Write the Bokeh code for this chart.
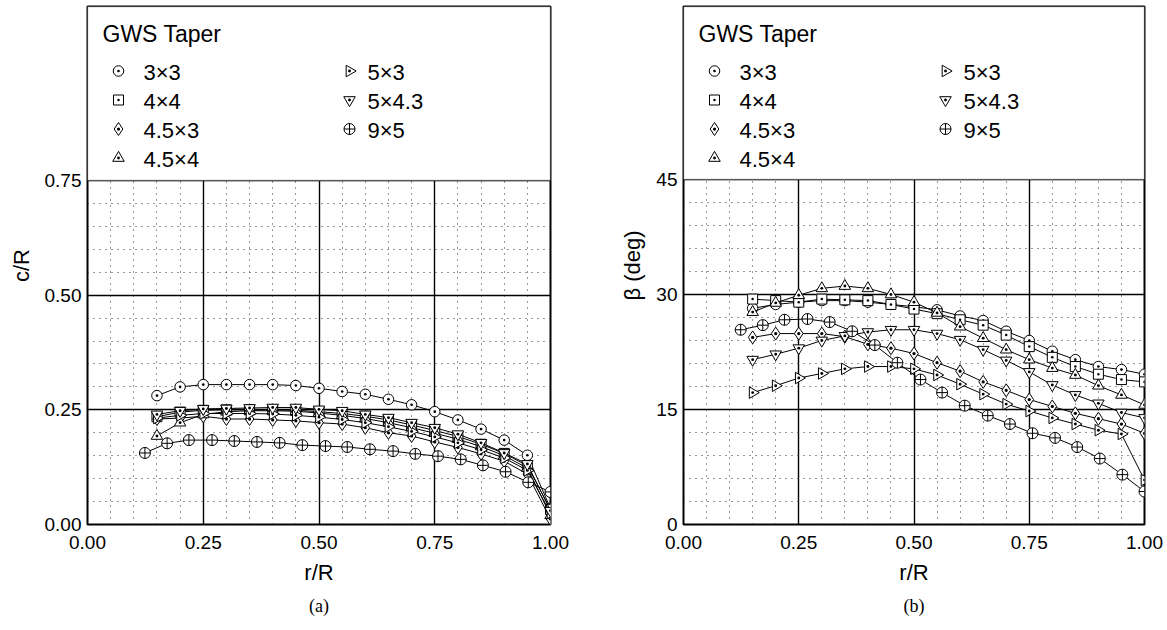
import numpy as np
from bokeh.plotting import figure
from bokeh.layouts import row
from bokeh.models import (FixedTicker, Range1d, BoxAnnotation, Title, NumeralTickFormatter)
from bokeh.core.properties import value
from bokeh.embed import file_html
from bokeh.resources import INLINE

# ---------------- data ----------------
r_std = [0.15, 0.20, 0.25, 0.30, 0.35, 0.40, 0.45, 0.50, 0.55, 0.60,
         0.65, 0.70, 0.75, 0.80, 0.85, 0.90, 0.95, 1.00]
r_9x5 = [0.124, 0.172, 0.219, 0.269, 0.317, 0.366, 0.415, 0.464, 0.514, 0.561,
         0.610, 0.660, 0.708, 0.757, 0.806, 0.854, 0.903, 0.952, 1.000]

legend_title = "GWS Taper"
labels = ["3×3", "4×4", "4.5×3", "4.5×4", "5×3", "5×4.3", "9×5"]

# chord distribution c/R
c_3x3 = [0.281, 0.300, 0.305, 0.305, 0.305, 0.305, 0.303, 0.297, 0.290, 0.284,
         0.273, 0.261, 0.246, 0.228, 0.208, 0.184, 0.151, 0.035]
c_4x4 = [0.235, 0.245, 0.249, 0.250, 0.250, 0.250, 0.249, 0.246, 0.242, 0.236,
         0.228, 0.217, 0.205, 0.192, 0.175, 0.155, 0.128, 0.033]
c_45x3 = [0.230, 0.232, 0.236, 0.230, 0.230, 0.228, 0.226, 0.222, 0.219, 0.211,
          0.200, 0.193, 0.180, 0.168, 0.154, 0.138, 0.110, 0.012]
c_45x4 = [0.193, 0.222, 0.240, 0.246, 0.248, 0.248, 0.247, 0.243, 0.238, 0.231,
          0.222, 0.211, 0.199, 0.186, 0.170, 0.150, 0.123, 0.020]
c_5x3 = [0.232, 0.238, 0.242, 0.242, 0.242, 0.241, 0.238, 0.234, 0.229, 0.222,
         0.213, 0.203, 0.191, 0.178, 0.163, 0.145, 0.118, 0.025]
c_5x43 = [0.240, 0.248, 0.252, 0.253, 0.254, 0.255, 0.255, 0.251, 0.248, 0.240,
          0.233, 0.222, 0.211, 0.197, 0.178, 0.156, 0.132, 0.030]
c_9x5 = [0.156, 0.177, 0.184, 0.184, 0.182, 0.180, 0.178, 0.173, 0.171, 0.169,
         0.164, 0.160, 0.154, 0.149, 0.142, 0.129, 0.115, 0.092, 0.071]

# twist distribution beta (deg)
b_3x3 = [28.2, 28.7, 29.0, 29.2, 29.2, 29.0, 28.7, 28.4, 28.0, 27.2,
         26.6, 25.2, 24.0, 22.6, 21.5, 20.6, 20.2, 19.6]
b_4x4 = [29.4, 29.2, 29.0, 29.4, 29.3, 29.2, 28.7, 28.1, 27.5, 26.7,
         26.0, 24.7, 23.2, 21.8, 20.6, 19.6, 18.9, 18.6]
b_45x3 = [24.4, 24.9, 24.9, 24.9, 24.5, 23.5, 23.0, 22.3, 21.1, 20.0,
          18.6, 17.5, 16.3, 15.4, 14.5, 13.8, 13.1, 11.9]
b_45x4 = [27.7, 28.9, 29.9, 30.8, 31.1, 30.8, 30.0, 29.0, 27.6, 25.8,
          24.3, 22.8, 21.5, 20.4, 19.5, 18.1, 16.9, 15.6]
b_5x3 = [17.2, 18.1, 19.1, 19.7, 20.3, 20.6, 20.6, 20.3, 19.5, 18.3,
         17.0, 15.7, 14.8, 13.9, 13.1, 12.3, 11.8, 5.8]
b_5x43 = [21.5, 22.2, 23.0, 24.0, 24.6, 25.1, 25.4, 25.4, 24.9, 24.1,
          22.8, 21.4, 19.9, 18.2, 16.9, 15.8, 14.6, 13.9]
b_9x5 = [25.4, 26.0, 26.7, 26.8, 26.4, 25.2, 23.4, 21.1, 18.9, 17.2,
         15.5, 14.2, 13.1, 11.9, 11.3, 10.1, 8.6, 6.5, 4.3]

x_ticks = [0.0, 0.25, 0.5, 0.75, 1.0]
x_minor = [0.05, 0.10, 0.15, 0.20, 0.30, 0.35, 0.40, 0.45, 0.55, 0.60, 0.65, 0.70,
           0.80, 0.85, 0.90, 0.95]
c_ticks = [0.0, 0.25, 0.5, 0.75]
c_minor = [0.05, 0.10, 0.15, 0.20, 0.30, 0.35, 0.40, 0.45, 0.55, 0.60, 0.65, 0.70]
b_ticks = [0, 15, 30, 45]
b_minor = [3, 6, 9, 12, 18, 21, 24, 27, 33, 36, 39, 42]

# ---------------- styling / layout ----------------
markers = [("circle_dot", 0.0, 10.5), ("square_dot", 0.0, 10), ("diamond_dot", 0.0, 13),
           ("triangle_dot", 0.0, 11.5), ("triangle_dot", -np.pi / 2, 11.5),
           ("triangle_dot", np.pi, 11.5), ("circle_cross", 0.0, 11)]

FONT = "Liberation Sans"
FIG_H = 628
TOP = 6            # frame top (px)
FRAME_H = 518      # frame height (px)


def make_panel(series, y_ticks, y_minor, y_top, y_end, y_label, caption, fmt,
               width, bl, br, frame_w, ylab_standoff):
    p = figure(width=width, height=FIG_H, output_backend="svg", toolbar_location=None,
               x_range=Range1d(0, 1), y_range=Range1d(0, y_end),
               min_border_left=bl, min_border_right=br, min_border_top=TOP,
               min_border_bottom=FIG_H - TOP - FRAME_H)
    p.outline_line_color = "black"
    p.outline_line_width = 2
    p.background_fill_color = "white"

    xt = FixedTicker(ticks=x_ticks, minor_ticks=x_minor)
    yt = FixedTicker(ticks=y_ticks, minor_ticks=y_minor)
    p.xaxis.ticker = xt
    p.yaxis.ticker = yt
    p.xgrid.ticker = xt
    p.ygrid.ticker = yt
    p.xaxis.formatter = NumeralTickFormatter(format="0.00")
    if fmt:
        p.yaxis.formatter = NumeralTickFormatter(format=fmt)

    for g in (p.xgrid, p.ygrid):
        g.grid_line_color = "black"
        g.grid_line_width = 1.4
        g.minor_grid_line_color = "#333333"
        g.minor_grid_line_width = 1
        g.minor_grid_line_dash = "1 5"

    for ax in (p.xaxis, p.yaxis):
        ax.axis_line_color = None
        ax.major_tick_line_color = None
        ax.minor_tick_line_color = None
        ax.major_tick_out = 0
        ax.major_tick_in = 0
        ax.major_label_text_font = FONT
        ax.major_label_text_font_size = "19px"
        ax.major_label_text_color = "black"
        ax.axis_label_text_font = FONT
        ax.axis_label_text_font_size = "22px"
        ax.axis_label_text_font_style = "normal"
        ax.axis_label_text_color = "black"
    p.xaxis.major_label_standoff = 7
    p.yaxis.major_label_standoff = 2
    p.xaxis.axis_label = "r/R"
    p.yaxis.axis_label = y_label
    p.xaxis.axis_label_standoff = 8
    p.yaxis.axis_label_standoff = ylab_standoff

    # white legend panel above the top tick
    p.add_layout(BoxAnnotation(bottom=y_top, fill_color="white", fill_alpha=1.0,
                               line_color="black", line_width=1.5, level="underlay"))

    for (xs, ys), (mk, ang, sz) in zip(series, markers):
        p.line(xs, ys, line_color="black", line_width=1.0)
        p.scatter(xs, ys, marker=mk, angle=ang, size=sz, fill_color="white",
                  line_color="black", line_width=1.0)

    # ---- legend drawn inside the top panel (pixel offsets from frame top-left) ----
    xs_per_px = 1.0 / frame_w
    ys_per_px = y_end / FRAME_H

    def lx(px):
        return px * xs_per_px

    def ly(px):
        return y_end - px * ys_per_px

    p.text(x=[lx(15)], y=[ly(27)], text=[legend_title], text_font=value(FONT),
           text_font_size=value("23px"), text_baseline="alphabetic", text_align="left",
           text_color="black")
    for i, lab in enumerate(labels):
        col, rw = (0, i) if i < 4 else (1, i - 4)
        mx = 31 if col == 0 else 262
        tx = 56 if col == 0 else 280
        mk, ang, sz = markers[i]
        p.scatter([lx(mx)], [ly(64.5 + 29 * rw)], marker=mk, angle=ang, size=sz,
                  fill_color="white", line_color="black", line_width=1.0)
        p.text(x=[lx(tx)], y=[ly(66 + 29 * rw)], text=[lab], text_font=value(FONT),
               text_font_size=value("22px"), text_baseline="alphabetic",
               text_align="left", text_color="black")

    p.add_layout(Title(text=caption, align="center", text_font="Liberation Serif",
                       text_font_size="18px", text_font_style="normal",
                       text_color="black", standoff=12), "below")
    return p


left_series = [(r_std, c_3x3), (r_std, c_4x4), (r_std, c_45x3), (r_std, c_45x4),
               (r_std, c_5x3), (r_std, c_5x43), (r_9x5, c_9x5)]
right_series = [(r_std, b_3x3), (r_std, b_4x4), (r_std, b_45x3), (r_std, b_45x4),
                (r_std, b_5x3), (r_std, b_5x43), (r_9x5, b_9x5)]

# left: frame x 87..550 ; right: frame x 683..1144
p1 = make_panel(left_series, c_ticks, c_minor, 0.75, 1.1294, "c/R", "(a)", "0.00",
                608, 87, 58, 463, 8)
p2 = make_panel(right_series, b_ticks, b_minor, 45, 67.56, "β (deg)", "(b)", None,
                559, 75, 23, 461, 8)

layout = row(p1, p2)
open("out.html", "w").write(file_html(layout, INLINE))
